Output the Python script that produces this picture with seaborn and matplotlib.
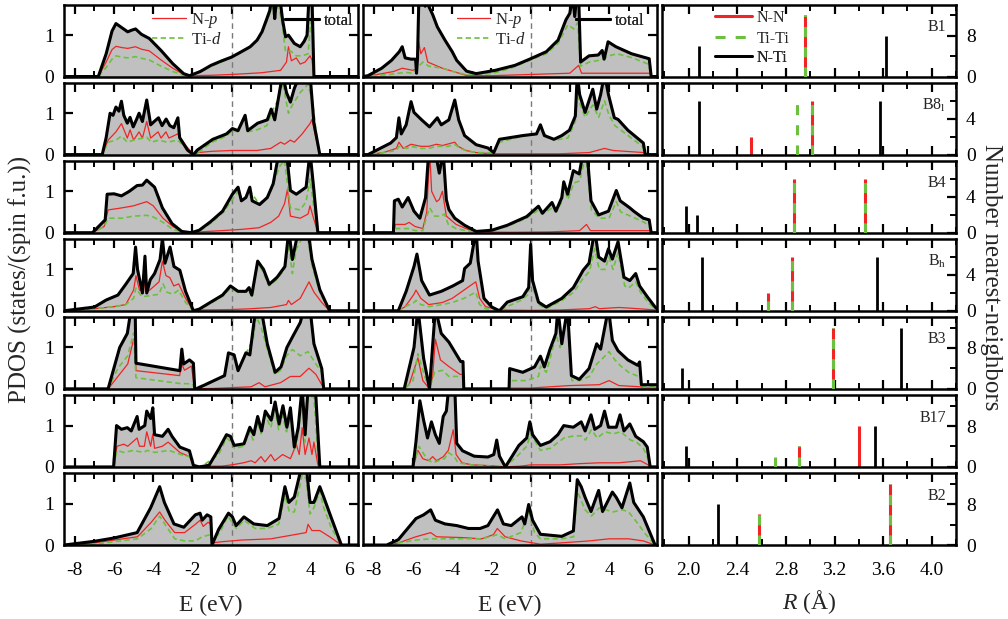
import matplotlib
matplotlib.use("Agg")
import matplotlib.pyplot as plt
import seaborn as sns
from matplotlib.lines import Line2D
from matplotlib.ticker import MultipleLocator, FixedLocator, FormatStrFormatter

# ---- PDOS curves, (E in eV, states); col a = left, col b = middle ----
b1a_tot = [(-8.55,0),(-6.8,0),(-6.4,0.55),(-6.1,1.1),(-5.9,1.28),(-5.6,1.18),(-5.3,1.08),(-5.1,1.12),(-4.9,1.15),(-4.6,1.02),(-4.2,0.92),(-3.6,0.63),(-3.0,0.31),(-2.45,0.07),(-2.15,0.02),(-1.6,0.12),(-1.05,0.27),(-0.5,0.38),(0,0.47),(0.5,0.6),(0.95,0.72),(1.3,0.88),(1.55,1.08),(1.8,1.4),(1.95,1.6),(2.05,1.95),(2.12,1.95),(2.2,1.4),(2.3,1.95),(2.45,1.95),(2.6,1.37),(2.75,0.96),(2.9,1.0),(3.05,0.9),(3.2,0.8),(3.5,0.72),(3.7,0.85),(3.85,1.0),(3.95,1.95),(4.1,1.95),(4.2,0),(6.45,0)]
b1a_np = [(-8.55,0),(-6.8,0),(-6.4,0.35),(-6.1,0.65),(-5.9,0.73),(-5.6,0.7),(-5.3,0.68),(-4.9,0.72),(-4.6,0.66),(-4.2,0.62),(-3.6,0.4),(-3.0,0.2),(-2.45,0.05),(-2.15,0.02),(-1.0,0.03),(0,0.05),(1.5,0.09),(2.5,0.15),(2.8,0.35),(2.9,0.72),(3.05,0.38),(3.3,0.45),(3.5,0.3),(3.75,0.35),(4.0,0.5),(4.1,0.4),(4.2,0),(6.45,0)]
b1a_tid = [(-8.55,0),(-6.8,0),(-6.4,0.22),(-6.1,0.42),(-5.9,0.5),(-5.6,0.47),(-5.3,0.45),(-4.9,0.48),(-4.6,0.44),(-4.2,0.4),(-3.6,0.25),(-3.0,0.12),(-2.45,0.03),(-2.15,0.02),(-1.05,0.25),(0,0.45),(0.95,0.7),(1.5,1.0),(1.9,1.45),(2.05,1.7),(2.15,1.5),(2.3,1.7),(2.45,1.6),(2.6,1.2),(2.75,0.6),(3.0,0.62),(3.3,0.5),(3.6,0.5),(3.9,0.55),(4.05,1.4),(4.15,1.0),(4.2,0),(6.45,0)]
b1b_tot = [(-8.55,0),(-8.3,0.02),(-7.6,0.2),(-7.1,0.39),(-6.7,0.6),(-6.55,0.72),(-6.4,0.45),(-6.1,0.42),(-5.87,0.42),(-5.82,0.08),(-5.77,0.45),(-5.7,1.95),(-5.45,1.95),(-5.38,1.7),(-5.3,1.95),(-5.2,1.7),(-5.0,1.5),(-4.76,1.2),(-4.37,0.88),(-4.0,0.6),(-3.77,0.39),(-3.27,0.13),(-2.78,0.07),(-1.8,0.15),(-0.8,0.27),(0,0.43),(0.8,0.6),(1.4,0.88),(1.8,1.37),(2.0,1.53),(2.15,1.95),(2.25,1.45),(2.35,1.95),(2.45,1.95),(2.55,0.35),(2.98,0.5),(3.45,0.52),(3.65,0.63),(3.75,0.42),(3.95,0.84),(4.35,0.72),(5.15,0.55),(6.05,0.43),(6.15,0),(6.45,0)]
b1b_np = [(-8.55,0),(-8.3,0.01),(-7.0,0.12),(-6.55,0.2),(-6.0,0.15),(-5.85,0.18),(-5.72,0.85),(-5.6,0.55),(-5.42,0.7),(-5.25,0.35),(-4.5,0.2),(-3.8,0.1),(-3.3,0.03),(-2.0,0.02),(0,0.05),(2.0,0.08),(2.45,0.27),(2.6,0.08),(4.0,0.08),(6.1,0.08),(6.15,0),(6.45,0)]
b1b_tid = [(-8.55,0),(-8.3,0.01),(-7.2,0.05),(-6.4,0.1),(-6.0,0.08),(-5.7,0.25),(-5.5,0.35),(-5.2,0.25),(-4.5,0.2),(-3.8,0.1),(-3.3,0.05),(-2.0,0.07),(-1.0,0.2),(0,0.4),(0.8,0.55),(1.4,0.8),(1.9,1.25),(2.2,1.15),(2.4,1.3),(2.55,0.25),(3.0,0.35),(3.6,0.4),(4.0,0.5),(4.4,0.55),(5.2,0.45),(6.0,0.3),(6.15,0),(6.45,0)]

b8a_tot = [(-8.55,0),(-6.6,0),(-6.4,0.41),(-6.2,1.0),(-6.05,0.95),(-5.9,1.15),(-5.75,1.05),(-5.62,1.29),(-5.5,0.95),(-5.32,0.76),(-5.18,0.9),(-5.02,0.67),(-4.85,0.85),(-4.72,1.0),(-4.55,0.8),(-4.33,1.32),(-4.13,0.72),(-3.95,0.8),(-3.73,0.89),(-3.55,0.7),(-3.34,0.86),(-3.15,0.7),(-2.95,0.65),(-2.74,0.89),(-2.65,0.41),(-2.25,0.11),(-1.95,0),(-1.75,0.11),(-0.96,0.37),(-0.26,0.5),(0.04,0.63),(0.33,0.58),(0.69,0.95),(0.82,0.58),(1.33,0.76),(1.82,0.84),(2.02,1.1),(2.2,0.84),(2.42,1.45),(2.6,1.95),(2.8,1.5),(3.0,1.27),(3.2,1.6),(3.5,1.95),(4.0,1.95),(4.2,0.76),(4.5,0),(6.45,0)]
b8a_np = [(-8.55,0),(-6.6,0),(-6.3,0.35),(-5.9,0.55),(-5.62,0.75),(-5.32,0.4),(-5.18,0.6),(-5.0,0.35),(-4.72,0.55),(-4.55,0.4),(-4.33,0.8),(-4.13,0.4),(-3.75,0.55),(-3.6,0.4),(-3.35,0.55),(-3.2,0.4),(-2.75,0.5),(-2.3,0.2),(-1.95,0),(-1.7,0.05),(-1.0,0.08),(0,0.1),(1.3,0.1),(2.0,0.15),(2.5,0.3),(2.7,0.25),(3.0,0.35),(3.2,0.3),(3.6,0.5),(4.0,0.75),(4.1,0.85),(4.3,0.4),(4.5,0),(6.45,0)]
b8a_tid = [(-8.55,0),(-6.6,0),(-6.3,0.3),(-5.9,0.35),(-5.62,0.45),(-5.32,0.3),(-5.0,0.35),(-4.33,0.42),(-4.1,0.3),(-3.7,0.35),(-3.3,0.3),(-2.75,0.35),(-2.3,0.15),(-1.95,0),(-1.7,0.05),(-1.0,0.3),(-0.25,0.45),(0.04,0.6),(0.3,0.55),(0.69,0.9),(0.82,0.55),(1.3,0.6),(1.8,0.7),(2.02,1.0),(2.4,1.35),(2.6,1.75),(2.9,1.0),(3.1,1.2),(3.5,1.5),(3.9,1.7),(4.15,1.2),(4.4,0.2),(4.5,0),(6.45,0)]
b8b_tot = [(-8.55,0),(-8.3,0),(-7.14,0.28),(-6.85,0.41),(-6.72,0.89),(-6.6,0.5),(-6.35,0.72),(-6.1,1.28),(-5.95,1.02),(-5.56,0.84),(-5.16,0.67),(-4.76,0.89),(-4.56,0.72),(-4.17,0.84),(-3.87,1.32),(-3.67,0.84),(-3.37,0.46),(-2.78,0.24),(-2.18,0.16),(-1.88,0.05),(-1.59,0.37),(-0.4,0.46),(0.3,0.5),(0.5,0.72),(0.7,0.46),(1.19,0.37),(1.59,0.46),(1.98,0.59),(2.28,0.93),(2.38,1.95),(2.5,1.45),(2.78,1.02),(3.17,1.58),(3.37,1.1),(3.57,1.45),(3.77,1.95),(3.97,1.45),(4.27,0.89),(4.46,0.85),(4.96,0.59),(5.75,0.28),(5.85,0),(6.45,0)]
b8b_np = [(-8.55,0),(-8.3,0),(-7.5,0.05),(-6.85,0.15),(-6.72,0.3),(-6.5,0.15),(-6.1,0.25),(-5.6,0.2),(-5.2,0.2),(-4.8,0.25),(-4.5,0.22),(-3.87,0.3),(-3.7,0.2),(-3.3,0.1),(-2.8,0.05),(-2.0,0.02),(0,0.02),(1.5,0.02),(3.0,0.05),(3.77,0.15),(4.2,0.1),(5.75,0.05),(5.85,0),(6.45,0)]
b8b_tid = [(-8.55,0),(-8.3,0),(-7.5,0.05),(-6.85,0.1),(-6.72,0.2),(-6.3,0.15),(-6.1,0.2),(-5.6,0.15),(-5.2,0.15),(-4.8,0.2),(-4.2,0.2),(-3.87,0.25),(-3.6,0.15),(-3.3,0.1),(-2.8,0.05),(-1.88,0.04),(-1.59,0.3),(-0.4,0.45),(0.3,0.5),(0.5,0.65),(0.8,0.45),(1.2,0.35),(1.9,0.4),(2.28,0.8),(2.38,1.4),(2.78,0.9),(3.17,1.2),(3.47,0.9),(3.77,1.3),(4.0,0.95),(4.3,0.7),(5.0,0.45),(5.7,0.2),(5.85,0),(6.45,0)]

b4a_tot = [(-8.55,0),(-7.1,0),(-6.45,0.31),(-6.35,0.93),(-6.0,0.94),(-5.62,0.89),(-5.22,1.0),(-4.82,1.14),(-4.55,1.15),(-4.33,1.27),(-3.93,1.1),(-3.53,0.6),(-3.04,0.22),(-2.54,0.03),(-2.05,0),(-1.65,0.06),(-1.06,0.27),(-0.46,0.52),(0.04,0.93),(0.33,1.1),(0.5,0.77),(0.73,0.85),(0.93,1.1),(1.05,0.77),(1.43,0.68),(1.82,0.85),(2.12,1.18),(2.42,1.95),(2.8,1.95),(3.0,1.02),(3.3,0.93),(3.8,1.1),(4.0,1.95),(4.2,1.02),(4.4,0),(6.45,0)]
b4a_np = [(-8.55,0),(-7.1,0),(-6.5,0.15),(-6.3,0.55),(-5.6,0.6),(-5.0,0.65),(-4.33,0.75),(-4.0,0.65),(-3.5,0.35),(-3.0,0.15),(-2.5,0.03),(-2.0,0),(-1.6,0.02),(-0.5,0.05),(0.5,0.08),(1.4,0.12),(2.0,0.25),(2.4,0.4),(2.7,0.7),(2.85,1.05),(3.0,0.4),(3.5,0.35),(3.9,0.45),(4.0,0.65),(4.15,0.4),(4.4,0),(6.45,0)]
b4a_tid = [(-8.55,0),(-7.1,0),(-6.5,0.15),(-6.3,0.35),(-5.6,0.35),(-5.0,0.4),(-4.33,0.42),(-4.0,0.38),(-3.5,0.25),(-3.0,0.08),(-2.5,0.02),(-2.0,0),(-1.6,0.05),(-1.0,0.25),(-0.4,0.5),(0.1,0.85),(0.35,1.0),(0.5,0.75),(0.95,1.0),(1.4,0.7),(1.9,0.9),(2.1,1.15),(2.45,1.6),(2.7,1.75),(3.0,0.6),(3.5,0.55),(3.8,0.75),(4.0,1.3),(4.2,0.6),(4.4,0),(6.45,0)]
b4b_tot = [(-8.55,0),(-7.0,0),(-6.95,0.77),(-6.75,0.81),(-6.55,0.62),(-6.25,0.85),(-5.95,0.52),(-5.65,0.35),(-5.36,0.85),(-5.2,1.95),(-4.86,1.95),(-4.66,1.44),(-4.46,1.95),(-4.3,0.8),(-4.17,0.56),(-3.87,0.35),(-3.37,0.18),(-2.78,0.03),(-1.98,0.06),(-1.19,0.18),(-0.2,0.39),(0.4,0.64),(0.6,0.47),(1.09,0.73),(1.29,0.52),(1.59,0.85),(1.69,1.23),(1.89,0.93),(2.18,1.5),(2.48,1.42),(2.68,1.95),(2.88,1.95),(3.08,0.77),(3.47,0.43),(3.97,0.52),(4.37,1.02),(4.57,0.77),(5.06,0.6),(5.26,0.52),(5.75,0.35),(6.05,0.31),(6.15,0),(6.45,0)]
b4b_np = [(-8.55,0),(-7.0,0),(-6.9,0.2),(-6.4,0.2),(-6.2,0.25),(-5.9,0.15),(-5.5,0.1),(-5.3,0.5),(-5.15,1.95),(-5.05,1.0),(-4.8,0.75),(-4.66,0.8),(-4.5,1.0),(-4.3,0.4),(-3.8,0.2),(-3.3,0.1),(-2.8,0.02),(-1.0,0.01),(1.0,0.02),(2.5,0.05),(2.85,0.2),(3.05,0.05),(5.8,0.05),(6.1,0.05),(6.15,0),(6.45,0)]
b4b_tid = [(-8.55,0),(-7.0,0),(-6.9,0.1),(-6.2,0.1),(-5.9,0.05),(-5.5,0.05),(-5.3,0.4),(-5.15,0.6),(-4.9,0.4),(-4.6,0.4),(-4.4,0.45),(-4.2,0.2),(-3.8,0.1),(-3.3,0.05),(-2.8,0.02),(-2.0,0.05),(-1.2,0.15),(-0.2,0.35),(0.4,0.55),(0.6,0.45),(1.1,0.6),(1.3,0.5),(1.6,0.75),(1.7,1.1),(1.9,0.8),(2.2,1.2),(2.5,1.25),(2.7,1.65),(2.85,1.7),(3.1,0.55),(3.5,0.35),(4.0,0.35),(4.37,0.75),(4.6,0.5),(5.1,0.4),(5.8,0.25),(6.05,0.15),(6.15,0),(6.45,0)]

bha_tot = [(-8.55,0),(-7.0,0.09),(-6.4,0.26),(-5.8,0.38),(-5.4,0.64),(-5.02,0.9),(-4.9,1.54),(-4.8,1.0),(-4.55,0.43),(-4.42,1.32),(-4.33,0.43),(-4.15,0.75),(-3.93,0.9),(-3.65,1.24),(-3.53,1.75),(-3.4,1.15),(-3.14,1.54),(-2.94,1.07),(-2.64,0.98),(-2.35,0.47),(-1.95,0),(-1.65,0.04),(-1.06,0.21),(-0.46,0.38),(-0.06,0.6),(0.33,0.47),(0.73,0.47),(0.89,0.56),(1.03,0.38),(1.33,1.2),(1.63,1.0),(1.92,0.64),(2.32,0.81),(2.72,1.07),(2.92,1.95),(3.1,1.24),(3.3,1.7),(3.6,1.95),(3.9,1.95),(4.1,1.24),(4.5,0.51),(5.0,0),(6.45,0)]
bha_np = [(-8.55,0),(-7.0,0.05),(-6.0,0.1),(-5.4,0.15),(-5.0,0.5),(-4.88,0.85),(-4.7,0.5),(-4.5,0.45),(-4.42,0.75),(-4.3,0.45),(-3.7,0.7),(-3.53,1.2),(-3.35,0.85),(-3.15,0.8),(-2.95,0.6),(-2.7,0.65),(-2.35,0.3),(-1.95,0),(-1.6,0.02),(0,0.03),(1.0,0.05),(2.0,0.08),(2.8,0.15),(2.9,0.25),(3.05,0.15),(3.5,0.3),(3.95,0.7),(4.2,0.45),(4.6,0.2),(5.0,0),(6.45,0)]
bha_tid = [(-8.55,0),(-7.0,0.05),(-6.0,0.1),(-5.4,0.15),(-5.0,0.3),(-4.88,0.55),(-4.6,0.35),(-4.38,0.35),(-3.7,0.4),(-3.5,0.65),(-3.3,0.45),(-3.0,0.4),(-2.7,0.5),(-2.35,0.2),(-1.95,0),(-1.65,0.02),(-1.0,0.2),(-0.46,0.35),(-0.06,0.55),(0.3,0.45),(0.9,0.45),(1.05,0.35),(1.33,1.15),(1.6,0.95),(1.9,0.6),(2.3,0.75),(2.7,1.0),(2.92,1.6),(3.1,0.9),(3.3,1.5),(3.6,1.75),(3.9,1.7),(4.1,1.1),(4.5,0.45),(5.0,0),(6.45,0)]
bhb_tot = [(-8.55,0),(-6.75,0),(-6.35,0.47),(-5.95,1.07),(-5.8,1.37),(-5.56,0.73),(-5.16,0.38),(-4.56,0.47),(-3.97,0.6),(-3.47,0.73),(-3.37,1.02),(-3.08,1.15),(-2.78,1.95),(-2.68,1.2),(-2.38,0.3),(-1.98,0.09),(-1.59,0),(-1.19,0.21),(-0.4,0.34),(-0.1,0.56),(0,1.6),(0.1,0.73),(0.4,0.21),(0.79,0.09),(1.59,0.3),(2.18,0.56),(2.68,0.98),(2.98,1.15),(3.27,1.95),(3.47,1.3),(3.77,1.2),(3.97,1.5),(4.17,1.25),(4.46,1.67),(4.76,0.81),(5.06,0.73),(5.36,0.9),(5.56,0.6),(5.95,0.34),(6.35,0.09),(6.45,0.05)]
bhb_np = [(-8.55,0),(-6.75,0),(-6.4,0.1),(-5.95,0.4),(-5.85,0.5),(-5.6,0.3),(-5.2,0.15),(-4.5,0.2),(-4.0,0.3),(-3.4,0.5),(-2.8,0.7),(-2.6,0.3),(-2.3,0.1),(-1.6,0.02),(0,0.01),(1.5,0.02),(3.0,0.05),(3.3,0.1),(3.5,0.05),(4.5,0.08),(5.5,0.05),(6.35,0.02),(6.45,0.02)]
bhb_tid = [(-8.55,0),(-6.75,0),(-6.4,0.1),(-5.95,0.2),(-5.85,0.25),(-5.6,0.15),(-5.2,0.1),(-4.5,0.15),(-4.0,0.2),(-3.4,0.3),(-2.8,0.45),(-2.6,0.15),(-2.3,0.05),(-1.6,0),(-1.2,0.1),(-0.5,0.25),(-0.1,0.4),(0,1.55),(0.15,0.5),(0.4,0.15),(0.8,0.05),(1.6,0.25),(2.2,0.45),(2.7,0.8),(3.0,0.95),(3.27,1.5),(3.5,1.0),(3.8,1.0),(4.0,1.3),(4.2,1.0),(4.46,1.4),(4.8,0.6),(5.0,0.55),(5.36,0.7),(5.6,0.45),(6.0,0.2),(6.35,0.05),(6.45,0.04)]

b3a_tot = [(-8.55,0),(-6.3,0),(-5.71,1.0),(-5.32,1.34),(-5.12,1.95),(-4.92,1.95),(-4.88,0.62),(-2.64,0.44),(-2.54,0.96),(-2.45,0.6),(-2.15,0.7),(-1.95,0.62),(-1.88,0),(-1.75,0.01),(-0.36,0.32),(-0.16,0.87),(0.13,0.82),(0.33,0.44),(0.73,0.87),(0.93,0.82),(1.23,1.95),(1.52,1.9),(1.82,1.09),(2.22,0.4),(2.52,0.53),(2.82,1.0),(3.1,1.25),(3.5,1.6),(3.7,1.95),(4.0,1.95),(4.2,1.09),(4.6,0.49),(4.7,0),(6.45,0)]
b3a_np = [(-8.55,0),(-6.3,0),(-5.8,0.3),(-5.3,0.6),(-5.0,1.2),(-4.9,1.2),(-4.88,0.44),(-2.65,0.32),(-2.55,0.6),(-2.4,0.45),(-2.05,0.55),(-1.88,0),(-1.0,0.01),(0,0.03),(1.0,0.05),(1.4,0.15),(1.7,0.05),(2.5,0.15),(3.0,0.3),(3.5,0.3),(3.95,0.5),(4.3,0.35),(4.6,0.1),(4.7,0),(6.45,0)]
b3a_tid = [(-8.55,0),(-6.3,0),(-5.8,0.5),(-5.3,0.8),(-5.0,1.35),(-4.88,0.27),(-2.65,0.13),(-2.0,0.12),(-1.88,0),(-1.7,0.05),(-0.4,0.3),(-0.16,0.85),(0.1,0.85),(0.33,0.4),(0.73,0.85),(1.1,1.2),(1.25,1.75),(1.5,1.5),(1.8,1.0),(2.2,0.35),(2.5,0.45),(2.8,0.8),(3.1,0.95),(3.5,0.8),(3.9,0.9),(4.3,0.6),(4.6,0.4),(4.7,0),(6.45,0)]
b3b_tot = [(-8.55,0),(-6.45,0),(-5.95,1.0),(-5.75,1.95),(-5.46,0.74),(-5.16,0),(-4.86,1.95),(-4.56,1.34),(-4.17,1.13),(-3.57,0.66),(-3.45,0.66),(-3.41,0),(-1.1,0),(-1.07,0.49),(-0.4,0.4),(0.2,0.53),(0.5,0.79),(0.7,0.53),(0.99,0.96),(1.29,1.34),(1.39,1.95),(1.59,1.09),(1.88,1.95),(2.08,0.32),(2.48,0.23),(2.98,0.49),(3.37,1.09),(3.57,0.96),(3.97,1.95),(4.17,1.17),(4.46,0.92),(4.96,0.7),(5.46,0.57),(5.56,0.65),(5.65,0.1),(6.45,0.1)]
b3b_np = [(-8.55,0),(-6.45,0),(-6.2,0.1),(-5.75,0.75),(-5.5,0.2),(-5.16,0),(-5.0,0.3),(-4.86,1.2),(-4.6,0.7),(-4.2,0.55),(-3.6,0.35),(-3.45,0.35),(-3.41,0),(-1.1,0),(-1.05,0.02),(0,0.02),(1.0,0.05),(2.0,0.08),(3.5,0.1),(4.0,0.2),(4.5,0.08),(5.6,0.05),(5.75,0.02),(6.45,0.02)]
b3b_tid = [(-8.55,0),(-6.45,0),(-6.0,0.2),(-5.75,0.85),(-5.4,0.3),(-5.16,0),(-4.9,0.4),(-4.5,0.45),(-4.17,0.3),(-3.6,0.3),(-3.45,0.3),(-3.41,0),(-1.1,0),(-1.05,0.2),(-0.2,0.2),(0.4,0.3),(0.5,0.55),(0.8,0.4),(1.0,0.75),(1.3,1.3),(1.5,1.0),(1.85,1.75),(2.1,0.2),(2.5,0.2),(3.0,0.3),(3.37,0.6),(3.7,0.75),(4.0,0.9),(4.3,0.7),(4.6,0.55),(5.0,0.4),(5.5,0.3),(5.6,0.3),(5.7,0.05),(6.45,0.05)]

b17a_tot = [(-8.55,0),(-6.02,0),(-5.87,1.0),(-5.62,0.91),(-5.32,0.95),(-5.12,0.87),(-4.82,1.22),(-4.72,0.91),(-4.43,1.0),(-4.33,1.35),(-4.13,1.17),(-4.02,1.43),(-3.93,0.78),(-3.53,0.74),(-3.24,0.91),(-3.04,0.74),(-2.64,0.48),(-2.15,0.39),(-1.95,0.04),(-1.65,0),(-1.15,0.04),(-0.66,0.43),(-0.26,0.78),(-0.06,0.74),(0.13,0.52),(0.63,0.56),(0.93,0.96),(1.13,0.78),(1.33,1.22),(1.53,0.87),(1.72,1.35),(2.02,1.13),(2.22,1.57),(2.42,1.04),(2.62,1.48),(2.82,0.96),(3.0,1.43),(3.2,0.48),(3.4,0.96),(3.6,1.95),(3.75,0.78),(3.9,1.95),(4.27,1.95),(4.5,0),(6.45,0)]
b17a_np = [(-8.55,0),(-6.0,0),(-5.85,0.5),(-5.5,0.55),(-5.3,0.5),(-4.82,0.7),(-4.7,0.5),(-4.45,0.5),(-4.33,0.85),(-4.13,0.5),(-4.02,0.8),(-3.93,0.45),(-3.53,0.5),(-3.24,0.6),(-3.0,0.5),(-2.64,0.35),(-2.15,0.25),(-1.9,0),(-1.5,0.02),(-0.5,0.02),(0,0.05),(0.6,0.1),(1.0,0.15),(1.2,0.1),(1.5,0.25),(1.7,0.12),(2.0,0.3),(2.2,0.15),(2.6,0.3),(3.0,0.2),(3.3,0.55),(3.45,0.3),(3.6,0.95),(3.75,0.3),(3.95,0.7),(4.1,0.3),(4.2,0.6),(4.4,0.05),(4.5,0),(6.45,0)]
b17a_tid = [(-8.55,0),(-6.0,0),(-5.85,0.4),(-5.5,0.35),(-5.0,0.4),(-4.5,0.35),(-4.3,0.4),(-3.9,0.35),(-3.2,0.4),(-2.6,0.3),(-2.15,0.25),(-1.9,0),(-1.5,0.02),(-0.66,0.3),(-0.26,0.7),(0,0.6),(0.15,0.45),(0.6,0.5),(0.93,0.85),(1.1,0.65),(1.33,1.1),(1.5,0.8),(1.72,1.25),(2.0,0.95),(2.22,1.4),(2.4,0.9),(2.6,1.25),(2.8,0.85),(3.0,1.2),(3.2,0.4),(3.4,0.8),(3.6,1.7),(3.75,0.6),(3.9,1.7),(4.2,1.7),(4.4,0.3),(4.5,0),(6.45,0)]
b17b_tot = [(-8.55,0),(-6.0,0),(-5.85,0.61),(-5.65,1.6),(-5.46,1.13),(-5.26,0.7),(-5.06,1.09),(-4.86,0.78),(-4.66,0.57),(-4.46,1.22),(-4.3,1.35),(-4.17,1.95),(-3.87,1.95),(-3.77,0.57),(-3.47,0.39),(-2.88,0.26),(-2.18,0.24),(-1.88,0.3),(-1.73,0.65),(-1.59,0.26),(-1.29,0),(-0.6,0.52),(-0.2,0.7),(-0.04,1.09),(0.1,0.78),(0.5,0.52),(0.99,0.61),(1.39,0.78),(1.69,1.0),(2.18,0.96),(2.58,1.09),(2.78,0.87),(3.08,1.26),(3.27,0.91),(3.57,1.0),(3.77,1.35),(3.97,0.96),(4.37,0.96),(4.56,1.26),(4.76,0.87),(5.06,1.04),(5.36,0.74),(5.75,0.61),(5.95,0.48),(6.1,0),(6.45,0)]
b17b_np = [(-8.55,0),(-6.0,0),(-5.75,0.4),(-5.5,0.2),(-5.2,0.15),(-5.0,0.25),(-4.8,0.15),(-4.45,0.25),(-4.2,0.4),(-3.95,0.9),(-3.8,0.3),(-3.5,0.1),(-3.0,0.05),(-2.0,0.03),(-1.3,0),(-0.5,0.02),(0,0.05),(1.5,0.05),(2.5,0.08),(3.5,0.1),(4.5,0.1),(5.6,0.15),(6.0,0.05),(6.1,0),(6.45,0)]
b17b_tid = [(-8.55,0),(-6.0,0),(-5.7,0.5),(-5.3,0.2),(-5.0,0.1),(-4.7,0.15),(-4.4,0.2),(-4.2,0.35),(-3.9,0.25),(-3.7,0.1),(-3.0,0.05),(-2.0,0.02),(-1.3,0),(-0.6,0.3),(-0.2,0.5),(0,0.8),(0.5,0.4),(1.0,0.45),(1.7,0.7),(2.2,0.75),(2.6,0.75),(2.8,0.65),(3.1,0.9),(3.4,0.7),(3.8,0.85),(4.2,0.8),(4.6,0.85),(5.1,0.65),(5.4,0.6),(5.75,0.45),(6.0,0.2),(6.1,0),(6.45,0)]

b2a_tot = [(-8.55,0),(-7.0,0.09),(-6.0,0.17),(-4.82,0.3),(-4.13,0.9),(-3.67,1.41),(-3.43,1.03),(-2.94,0.51),(-2.44,0.43),(-1.85,0.73),(-1.61,0.77),(-1.5,0.6),(-1.25,0.73),(-1.06,0.68),(-1.0,0),(-0.66,0.38),(-0.16,0.77),(0.04,0.68),(0.23,0.47),(0.63,0.68),(1.13,0.51),(1.82,0.47),(2.42,0.64),(2.72,1.41),(2.92,1.03),(3.2,1.16),(3.6,1.95),(3.8,1.95),(4.0,1.03),(4.2,1.03),(4.5,1.41),(4.7,1.16),(5.1,0.64),(5.6,0),(6.45,0)]
b2a_np = [(-8.55,0),(-7.0,0.05),(-6.0,0.12),(-4.8,0.2),(-4.1,0.55),(-3.67,0.8),(-3.4,0.6),(-2.9,0.3),(-2.4,0.3),(-1.85,0.5),(-1.6,0.6),(-1.45,0.45),(-1.2,0.55),(-1.05,0.5),(-1.0,0.05),(-0.5,0.08),(0.5,0.12),(2.0,0.15),(3.8,0.3),(3.9,0.5),(4.1,0.35),(4.5,0.35),(5.0,0.2),(5.6,0),(6.45,0)]
b2a_tid = [(-8.55,0),(-7.0,0.02),(-6.0,0.08),(-4.8,0.15),(-4.1,0.4),(-3.67,0.7),(-3.4,0.5),(-2.9,0.15),(-2.4,0.1),(-1.85,0.1),(-1.5,0.2),(-1.1,0.25),(-1.0,0.1),(-0.6,0.3),(-0.2,0.7),(0.25,0.4),(0.63,0.6),(1.2,0.4),(1.8,0.4),(2.4,0.5),(2.72,1.2),(2.95,0.8),(3.2,0.8),(3.6,1.7),(3.8,1.6),(4.0,0.75),(4.2,0.9),(4.5,1.3),(4.7,0.9),(5.1,0.4),(5.6,0),(6.45,0)]
b2b_tot = [(-8.55,0),(-7.34,0),(-6.75,0.13),(-5.85,0.64),(-5.46,0.73),(-5.1,0.85),(-4.86,0.6),(-4.37,0.51),(-3.77,0.47),(-3.17,0.4),(-2.58,0.4),(-2.18,0.47),(-1.69,0.85),(-1.39,0.51),(-0.99,0.47),(-0.44,0.68),(-0.3,0.51),(-0.1,0.98),(0.1,0.6),(0.5,0.26),(1.59,0.21),(2.18,0.34),(2.38,1.58),(2.58,1.41),(2.78,1.15),(3.08,0.81),(3.47,1.32),(3.67,0.81),(4.17,1.28),(4.37,1.15),(4.66,0.9),(5.06,1.5),(5.26,1.03),(5.75,0.68),(6.35,0),(6.45,0)]
b2b_np = [(-8.55,0),(-7.3,0),(-6.75,0.05),(-5.85,0.2),(-5.1,0.3),(-4.8,0.2),(-3.5,0.18),(-2.5,0.15),(-1.9,0.25),(-1.7,0.4),(-1.3,0.2),(-0.5,0.1),(0.5,0.02),(1.5,0.05),(3.0,0.1),(4.0,0.15),(5.0,0.15),(5.75,0.1),(6.35,0),(6.45,0)]
b2b_tid = [(-8.55,0),(-7.3,0),(-6.75,0.05),(-5.85,0.12),(-5.1,0.15),(-4.0,0.15),(-2.5,0.15),(-1.7,0.25),(-1.3,0.15),(-0.5,0.3),(-0.1,0.8),(0.2,0.3),(0.5,0.15),(1.6,0.15),(2.2,0.2),(2.38,1.3),(2.78,0.85),(3.1,0.7),(3.5,0.9),(4.2,0.8),(4.7,0.85),(5.0,0.8),(5.5,0.5),(5.8,0.3),(6.35,0),(6.45,0)]

# ---- nearest-neighbour shells, (R in Angstrom, count) ----
phase_names = ["B1", "B8$_\\mathrm{l}$", "B4", "B$_\\mathrm{h}$", "B3", "B17", "B2"]
nn_shells = [[(2.953, 12)], [(2.51, 2), (3.016, 6)], [(2.87, 6), (3.45, 6)], [(2.65, 2), (2.85, 6)],
             [(3.19, 12)], [(2.91, 4), (3.40, 8)], [(2.58, 6), (3.66, 12)]]
tt_shells = [[(2.953, 12)], [(2.893, 6), (3.016, 6)], [(2.87, 6), (3.45, 6)], [(2.65, 2), (2.85, 6)],
             [(3.19, 12)], [(2.71, 2), (2.91, 4)], [(2.58, 6), (3.66, 12)]]
nt_shells = [[(2.08, 6), (3.62, 8)], [(2.08, 6), (3.57, 6)], [(1.98, 3), (2.07, 2)], [(2.11, 6), (3.55, 6)],
             [(1.945, 4), (3.75, 12)], [(1.98, 4), (3.53, 8)], [(2.24, 8)]]
nn_ymax = [14, 8, 8, 8, 14, 14, 14]

pdos = [
    (b1a_tot, b1a_np, b1a_tid, b1b_tot, b1b_np, b1b_tid),
    (b8a_tot, b8a_np, b8a_tid, b8b_tot, b8b_np, b8b_tid),
    (b4a_tot, b4a_np, b4a_tid, b4b_tot, b4b_np, b4b_tid),
    (bha_tot, bha_np, bha_tid, bhb_tot, bhb_np, bhb_tid),
    (b3a_tot, b3a_np, b3a_tid, b3b_tot, b3b_np, b3b_tid),
    (b17a_tot, b17a_np, b17a_tid, b17b_tot, b17b_np, b17b_tid),
    (b2a_tot, b2a_np, b2a_tid, b2b_tot, b2b_np, b2b_tid),
]

RED = "#f02424"
GREEN = "#6cc040"
GRAY = "#c0c0c0"
TID_DASH = (0, (3.2, 2.0))
TT_DASH = (0, (3.3, 3.3))

sns.set_theme(style="ticks")
plt.rcParams["font.family"] = ["Liberation Serif", "DejaVu Serif"]
plt.rcParams.update({
    "mathtext.fontset": "custom",
    "mathtext.rm": "Liberation Serif",
    "mathtext.it": "Liberation Serif:italic",
    "axes.unicode_minus": False,
    "axes.linewidth": 1.8,
    "axes.edgecolor": "black",
    "xtick.color": "black",
    "ytick.color": "black",
    "xtick.major.width": 1.6,
    "ytick.major.width": 1.6,
    "xtick.minor.width": 1.4,
    "ytick.minor.width": 1.4,
    "xtick.major.size": 6.5,
    "ytick.major.size": 6.5,
    "xtick.minor.size": 4.5,
    "ytick.minor.size": 4.5,
    "xtick.labelsize": 14,
    "ytick.labelsize": 14,
})


def draw_curve(ax, pts, **kw):
    e, v = zip(*pts)
    sns.lineplot(x=list(e), y=list(v), ax=ax, estimator=None, sort=False, legend=False, **kw)


def draw_pdos(ax, tot, np_, tid):
    e, v = zip(*tot)
    ax.fill_between(e, 0, v, color=GRAY, lw=0, zorder=1)
    ax.axvline(0, color="#7a7a7a", lw=1.0, ls=(0, (4, 3)), zorder=1.5)
    draw_curve(ax, np_, color=RED, lw=0.9, zorder=2)
    draw_curve(ax, tid, color=GREEN, lw=1.2, linestyle=TID_DASH, zorder=2.1)
    draw_curve(ax, tot, color="black", lw=2.2, zorder=3)
    ax.set_xlim(-8.55, 6.45)
    ax.set_ylim(0, 1.73)
    ax.xaxis.set_major_locator(MultipleLocator(2))
    ax.xaxis.set_minor_locator(MultipleLocator(1))
    ax.yaxis.set_major_locator(FixedLocator([0, 1]))
    ax.tick_params(which="both", direction="in", top=True, right=True, bottom=True, left=True)
    ax.tick_params(axis="y", pad=7)
    ax.tick_params(axis="x", pad=12)


def put_key(ax, handle, label, x, y, fs, hl):
    leg = ax.legend([handle], [label], loc="center left", bbox_to_anchor=(x, y), frameon=False,
                    fontsize=fs, handlelength=hl, handletextpad=0.3, borderpad=0, borderaxespad=0)
    ax.add_artist(leg)


fig = plt.figure(figsize=(10.08, 6.19), dpi=100)
gs = fig.add_gridspec(7, 3, left=0.0635, right=0.9485, top=0.992, bottom=0.1195,
                      hspace=0.091, wspace=0.017)

for i in range(7):
    ax1 = fig.add_subplot(gs[i, 0])
    ax2 = fig.add_subplot(gs[i, 1])
    ax3 = fig.add_subplot(gs[i, 2])
    row = pdos[i]
    draw_pdos(ax1, row[0], row[1], row[2])
    draw_pdos(ax2, row[3], row[4], row[5])
    ax2.tick_params(labelleft=False)
    for ax in (ax1, ax2):
        ax.set_xlabel("")
        ax.set_ylabel("")
        if i < 6:
            ax.tick_params(labelbottom=False)

    # neighbour shells
    for r, n in nn_shells[i]:
        ax3.plot([r, r], [0, n], color=RED, lw=2.2, solid_capstyle="butt", zorder=2)
    for r, n in tt_shells[i]:
        ax3.plot([r, r], [0, n], color=GREEN, lw=2.2, ls=TT_DASH, dash_capstyle="butt", zorder=3)
    for r, n in nt_shells[i]:
        ax3.plot([r, r], [0, n], color="black", lw=2.0, solid_capstyle="butt", zorder=2)
    ax3.set_xlim(1.78, 4.2)
    ax3.set_ylim(0, nn_ymax[i])
    ax3.xaxis.set_major_locator(MultipleLocator(0.4))
    ax3.xaxis.set_minor_locator(MultipleLocator(0.2))
    ax3.xaxis.set_major_formatter(FormatStrFormatter("%.1f"))
    if nn_ymax[i] == 14:
        ax3.yaxis.set_major_locator(FixedLocator([0, 8]))
        ax3.yaxis.set_minor_locator(FixedLocator([4, 12]))
    else:
        ax3.yaxis.set_major_locator(FixedLocator([0, 4]))
        ax3.yaxis.set_minor_locator(FixedLocator([2, 6]))
    ax3.tick_params(which="both", direction="in", top=True, bottom=True, left=False, right=True,
                    labelleft=False, labelright=True)
    ax3.tick_params(axis="y", pad=7)
    ax3.tick_params(axis="x", pad=12)
    if i < 6:
        ax3.tick_params(labelbottom=False)
    ax3.text(0.965, 0.69, phase_names[i], transform=ax3.transAxes, ha="right", va="center",
             fontsize=11.5)

    if i == 0:
        h_np = Line2D([], [], color=RED, lw=0.9)
        h_tid = Line2D([], [], color=GREEN, lw=1.2, ls=TID_DASH)
        h_tot = Line2D([], [], color="black", lw=2.2)
        put_key(ax1, h_np, "N-$p$", 0.30, 0.78, 12, 2.0)
        put_key(ax1, h_tid, "Ti-$d$", 0.30, 0.51, 12, 2.0)
        put_key(ax1, h_tot, "total", 0.753, 0.78, 12, 2.0)
        put_key(ax2, h_np, "N-$p$", 0.318, 0.78, 12, 2.0)
        put_key(ax2, h_tid, "Ti-$d$", 0.318, 0.51, 12, 2.0)
        put_key(ax2, h_tot, "total", 0.725, 0.78, 12, 2.0)
        put_key(ax3, Line2D([], [], color=RED, lw=2.2), "N-N", 0.18, 0.82, 11.5, 2.3)
        put_key(ax3, Line2D([], [], color=GREEN, lw=2.2, ls=TT_DASH), "Ti-Ti", 0.18, 0.53, 11.5, 2.3)
        put_key(ax3, Line2D([], [], color="black", lw=2.0), "N-Ti", 0.18, 0.265, 11.5, 2.3)

    if i == 6:
        ax1.set_xlabel("E (eV)", fontsize=17, labelpad=12)
        ax2.set_xlabel("E (eV)", fontsize=17, labelpad=12)
        ax3.set_xlabel("$R$ (Å)", fontsize=17, labelpad=7)

fig.text(0.02, 0.548, "PDOS (states/(spin f.u.))", rotation=90, ha="center", va="center", fontsize=18)
fig.text(0.983, 0.553, "Number nearest-neighbors", rotation=270, ha="center", va="center", fontsize=18)

fig.savefig("out.png", dpi=100)
